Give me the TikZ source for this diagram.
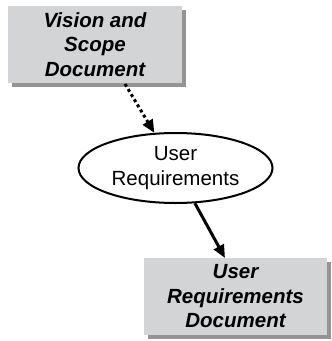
\documentclass[tikz,border=0pt]{standalone}
\usepackage{fontspec}
\setmainfont{Liberation Sans}
\usetikzlibrary{arrows.meta,shadows,shapes.geometric}
\definecolor{boxgray}{RGB}{211,212,214}
\begin{document}
\begin{tikzpicture}[x=1pt,y=-1pt,
  docbox/.style={fill=boxgray, inner sep=0pt, align=center,
    font=\fontsize{20.5}{24.5}\selectfont\bfseries\itshape,
    drop shadow={shadow xshift=4pt, shadow yshift=-4pt, fill=black!70, opacity=0.6}},
  procell/.style={ellipse, draw=black, line width=2pt, fill=white, inner sep=0pt,
    align=center, font=\fontsize{20.5}{24.5}\selectfont},
  tip/.style={-{Triangle[length=13pt,width=11pt]}},
  dotarrow/.style={tip, line width=3pt, dash pattern=on 3pt off 3pt},
  solidarrow/.style={tip, line width=3pt}
]
\useasboundingbox (0,0) rectangle (332,341);
\node[docbox, minimum width=174pt, minimum height=77pt] (vsd) at (95,44.5)
  {Vision and\\Scope\\Document};
\node[procell, minimum width=194pt, minimum height=70pt] (ur) at (175.5,168)
  {User\\Requirements};
\node[docbox, minimum width=183pt, minimum height=77pt] (urd) at (235.5,296.5)
  {User\\Requirements\\Document};
\coordinate (a1) at (125,84);
\coordinate (a2) at (225,258);
\draw[dotarrow] (a1) -- (ur);
\draw[solidarrow] (ur) -- (a2);
\end{tikzpicture}
\end{document}
